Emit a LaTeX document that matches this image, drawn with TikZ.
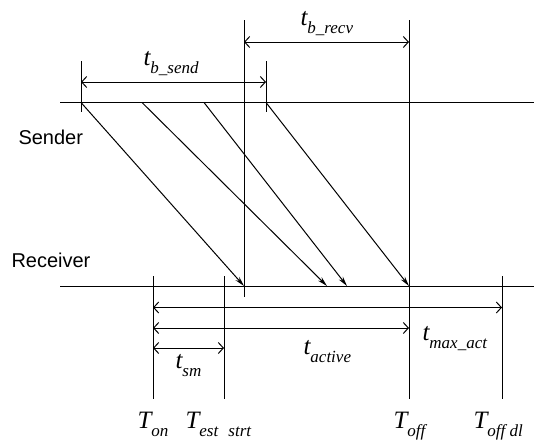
\documentclass[tikz,border=0pt]{standalone}
\usepackage{fontspec}
\setmainfont{Liberation Serif}
\newfontfamily\arialfont{Liberation Sans}
\usetikzlibrary{arrows.meta}
\newcommand\tlab[2]{\fontsize{25}{25}\selectfont\itshape #1\raisebox{-8pt}{\fontsize{17}{17}\selectfont #2}}
\begin{document}
\begin{tikzpicture}[x=1pt,y=-1pt,line width=1pt,
  dim/.style={{Straight Barb[length=5pt,width=11pt]}-{Straight Barb[length=5pt,width=11pt]}},
  msg/.style={-{Stealth[length=10pt,width=5pt]}},
  lbl/.style={anchor=base west,inner sep=0pt},
  lane/.style={font=\arialfont\fontsize{20}{20}\selectfont,anchor=base west,inner sep=0pt}]
\useasboundingbox (0,0) rectangle (534,439);
% lanes
\coordinate (sL) at (60,102.5); \coordinate (sR) at (534,102.5);
\coordinate (rL) at (60,286);   \coordinate (rR) at (534,286);
\draw (sL) -- (sR);
\draw (rL) -- (rR);
\node[lane] (sender) at (18,144) {Sender};
\node[lane] (receiver) at (11,267) {Receiver};
% sender ticks
\coordinate (a1top) at (81,61);  \coordinate (a1) at (81,102.5);  \coordinate (a1bot) at (81,112);
\coordinate (a4top) at (266,61); \coordinate (a4) at (266,102.5); \coordinate (a4bot) at (266,112);
\coordinate (m2) at (142,102.5); \coordinate (m3) at (204,102.5);
\draw (a1top) -- (a1bot);
\draw (a4top) -- (a4bot);
% long verticals
\coordinate (v1top) at (244,20); \coordinate (v1bot) at (244,297); \coordinate (r1) at (244,286);
\coordinate (v2top) at (409,20); \coordinate (v2bot) at (409,399); \coordinate (r4) at (409,286);
\coordinate (r2) at (327,286); \coordinate (r3) at (347,286);
\draw (v1top) -- (v1bot);
\draw (v2top) -- (v2bot);
% messages
\draw[msg] (a1) -- (r1);
\draw[msg] (m2) -- (r2);
\draw[msg] (m3) -- (r3);
\draw[msg] (a4) -- (r4);
% receiver verticals
\coordinate (ontop) at (153,276); \coordinate (onbot) at (153,399);
\coordinate (esttop) at (224,276); \coordinate (estbot) at (224,399);
\coordinate (dltop) at (502,276); \coordinate (dlbot) at (502,399);
\draw (ontop) -- (onbot);
\draw (esttop) -- (estbot);
\draw (dltop) -- (dlbot);
% dimension arrows
\coordinate (bsL) at (81,82);  \coordinate (bsR) at (266,82);
\coordinate (brL) at (244,42); \coordinate (brR) at (409,42);
\coordinate (maL) at (153,307.5); \coordinate (maR) at (502,307.5);
\coordinate (acL) at (153,328); \coordinate (acR) at (409,328);
\coordinate (smL) at (153,348); \coordinate (smR) at (224,348);
\draw[dim] (bsL) -- (bsR);
\draw[dim] (brL) -- (brR);
\draw[dim] (maL) -- (maR);
\draw[dim] (acL) -- (acR);
\draw[dim] (smL) -- (smR);
% labels
\node[lbl] (tbsend) at (143,65) {\tlab{t}{b\_send}};
\node[lbl] (tbrecv) at (300,25) {\tlab{t}{b\_recv}};
\node[lbl] (tmax) at (422,340) {\tlab{t}{max\_act}};
\node[lbl] (tact) at (303,354) {\tlab{t}{active}};
\node[lbl] (tsm) at (175,368) {\tlab{t}{sm}};
\node[lbl] (Ton) at (137,428) {\tlab{T}{on}};
\node[lbl] (Test) at (185,428) {\tlab{T}{est\hspace{0.6em}strt}};
\node[lbl] (Toff) at (393,428) {\tlab{T}{off}};
\node[lbl] (Toffdl) at (473,428) {\tlab{T}{off dl}};
\end{tikzpicture}
\end{document}
